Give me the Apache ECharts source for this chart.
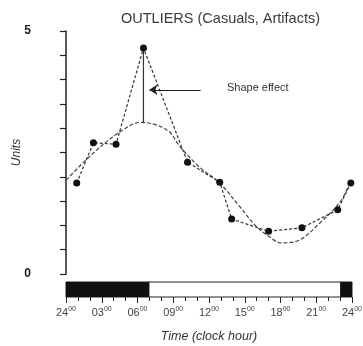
<!DOCTYPE html>
<html>
<head>
<meta charset="utf-8">
<script src="https://cdn.jsdelivr.net/npm/echarts@6/dist/echarts.min.js"></script>
<style>
  html, body { margin: 0; padding: 0; background: #fff; }
  #chart { width: 363px; height: 346px; }
</style>
</head>
<body>
<div id="chart"></div>
<script>
// observed values (clock hour, units)
const obsHours = [0.9, 2.3, 4.2, 6.5, 10.2, 12.9, 13.9, 17.0, 19.8, 22.8, 23.9];
const obsValues = [1.87, 2.70, 2.67, 4.65, 2.30, 1.89, 1.13, 0.88, 0.95, 1.32, 1.87];

// fitted curve
const fitHours = [0, 2.3, 4.5, 6.3, 8.5, 9.6, 11.2, 12.9, 14.6, 16.0, 17.1, 18.0, 19.6, 21.3, 23.0, 23.8];
const fitValues = [1.93, 2.49, 2.92, 3.12, 2.96, 2.61, 2.20, 1.87, 1.38, 0.97, 0.76, 0.64, 0.70, 1.05, 1.48, 1.87];

// outlier "shape effect" segment: peak -> curve
const shapeHour = 6.5;
const shapeFrom = 4.65;
const shapeTo = 3.12;

// dark (night) spans on the time bar
const darkSpans = [[0, 7], [23, 24]];

const tickHours = [0, 3, 6, 9, 12, 15, 18, 21, 24];
const tickLabels = ['24', '03', '06', '09', '12', '15', '18', '21', '24'];

const chart = echarts.init(document.getElementById('chart'));

const option = {
  animation: false,
  backgroundColor: '#fff',
  title: {
    text: 'OUTLIERS (Casuals, Artifacts)',
    left: 116,
    top: 6,
    textStyle: { fontFamily: 'Liberation Sans', fontSize: 14.5, fontWeight: 'normal', color: '#3a3a3a' }
  },
  graphic: [
    {
      type: 'text',
      left: 227,
      top: 82,
      style: { text: 'Shape effect', font: '11px "Liberation Sans"', fill: '#333' }
    }
  ],
  grid: [
    { left: 66, right: 11, top: 31, height: 243, outerBoundsMode: 'none', containLabel: false },
    { left: 66, right: 11, top: 282, height: 15, show: true, borderColor: '#222', borderWidth: 1, backgroundColor: '#fff', outerBoundsMode: 'none', containLabel: false }
  ],
  xAxis: [
    { gridIndex: 0, type: 'value', min: 0, max: 24, show: false },
    {
      gridIndex: 1, type: 'value', min: 0, max: 24, interval: 3,
      axisLine: { show: false },
      axisTick: { show: true, length: 6, lineStyle: { color: '#222' } },
      minorTick: { show: true, splitNumber: 3, length: 4, lineStyle: { color: '#222' } },
      splitLine: { show: false },
      axisLabel: {
        margin: 9,
        formatter: function (v) {
          const i = tickHours.indexOf(v);
          return '{a|' + tickLabels[i] + '}{b|00}';
        },
        rich: {
          a: { fontFamily: 'Liberation Sans', fontSize: 11, color: '#444' },
          b: { fontFamily: 'Liberation Sans', fontSize: 7, color: '#444', verticalAlign: 'top', padding: [0, 0, 6, 0] }
        }
      },
      name: 'Time (clock hour)',
      nameLocation: 'middle',
      nameGap: 33,
      nameMoveOverlap: false,
      nameTextStyle: { fontFamily: 'Liberation Sans', fontSize: 12.5, fontStyle: 'italic', color: '#333' }
    }
  ],
  yAxis: [
    {
      gridIndex: 0, type: 'value', min: 0, max: 5, interval: 0.5, offset: 21,
      axisLine: { show: true, lineStyle: { color: '#222', width: 1.5 } },
      axisTick: { show: true, length: 6, lineStyle: { color: '#222', width: 1.2 } },
      splitLine: { show: false },
      axisLabel: {
        margin: 14,
        fontFamily: 'Liberation Sans', fontSize: 12, fontWeight: 'bold', color: '#222',
        formatter: function (v) { return (v === 0 || v === 5) ? String(v) : ''; }
      },
      name: 'Units',
      nameLocation: 'middle',
      nameRotate: 90,
      nameGap: 22,
      nameMoveOverlap: false,
      nameTextStyle: { fontFamily: 'Liberation Sans', fontSize: 12, fontStyle: 'italic', color: '#333' }
    },
    { gridIndex: 1, type: 'value', min: 0, max: 1, show: false }
  ],
  series: [
    {
      type: 'line',
      xAxisIndex: 0, yAxisIndex: 0,
      data: fitHours.map((h, i) => [h, fitValues[i]]),
      smooth: 0.35,
      symbol: 'none',
      lineStyle: { color: '#444', width: 1.2, type: [4, 2] },
      z: 2
    },
    {
      type: 'line',
      xAxisIndex: 0, yAxisIndex: 0,
      data: obsHours.map((h, i) => [h, obsValues[i]]),
      symbol: 'circle',
      symbolSize: 7,
      itemStyle: { color: '#111' },
      lineStyle: { color: '#333', width: 1.2, type: [3, 2] },
      z: 3
    },
    {
      type: 'line',
      xAxisIndex: 0, yAxisIndex: 0,
      data: [[shapeHour, shapeFrom], [shapeHour, shapeTo]],
      symbol: 'none',
      lineStyle: { color: '#333', width: 1.2 },
      markLine: {
        silent: true,
        symbol: ['none', 'arrow'],
        symbolSize: 8,
        label: { show: false },
        lineStyle: { color: '#222', width: 1.2, type: 'solid' },
        data: [[{ coord: [11.3, 3.79] }, { coord: [7.0, 3.79] }]]
      },
      z: 2
    },
    {
      type: 'line',
      xAxisIndex: 1, yAxisIndex: 1,
      data: [[0, 0]],
      symbol: 'none',
      lineStyle: { opacity: 0 },
      markArea: {
        silent: true,
        itemStyle: { color: '#111' },
        data: darkSpans.map(s => [{ xAxis: s[0] }, { xAxis: s[1] }])
      }
    }
  ]
};

chart.setOption(option);
</script>
</body>
</html>
